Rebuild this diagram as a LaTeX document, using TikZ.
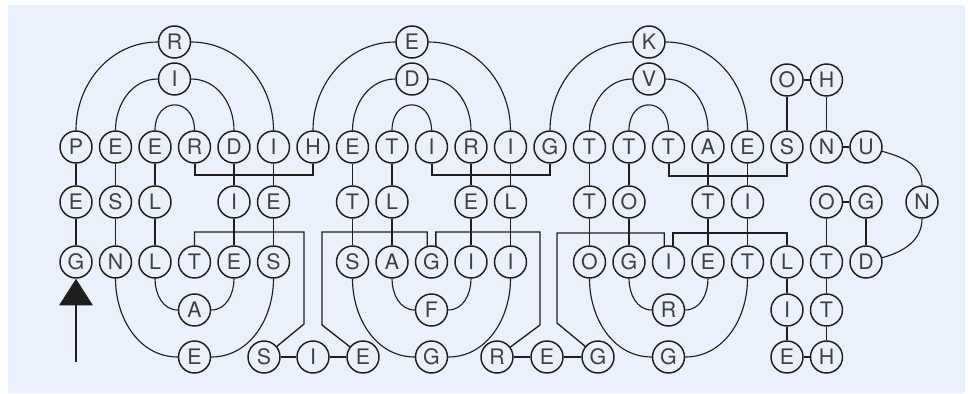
\documentclass[tikz,border=0pt]{standalone}
\usepackage{fontspec}
\setmainfont{TeX Gyre Heros}
\usetikzlibrary{arrows.meta}
\definecolor{paleblue}{RGB}{234,241,251}
\definecolor{ink}{RGB}{30,30,30}

\begin{document}
\begin{tikzpicture}[
    x=0.75pt, y=-0.75pt,
    every node/.style={circle, draw=ink, fill=paleblue, line width=1.1pt, minimum size=24pt, inner sep=0pt, text=ink!85, font=\fontsize{16}{16}\selectfont},
    link/.style={draw=ink, line width=0.85pt},
    tie/.style={draw=ink, line width=1pt},
    bar/.style={draw=ink, line width=1.5pt},
    hairpin/.style={out=90, in=90, looseness=2.2},
    pointer/.style={draw=ink, line width=1.9pt, -{Triangle[width=25pt, length=20pt]}}
]
\useasboundingbox (0,0) rectangle (968,393);
\fill[white] (0,0) rectangle (968,393);
\fill[paleblue] (8,5) rectangle (965,393);

\node (a1) at (174.5,42) {R};
\node (a2) at (412,42) {E};
\node (a3) at (649,42) {K};
\node (b1) at (174.5,79) {I};
\node (b2) at (412,79) {D};
\node (b3) at (649,79) {V};
\node (b4) at (787,80) {O};
\node (b5) at (826.5,80) {H};

\node (c0) at (76,147) {P};
\node (c1) at (115.5,147) {E};
\node (c2) at (155,147) {E};
\node (c3) at (194.5,147) {R};
\node (c4) at (234,147) {D};
\node (c5) at (273.5,147) {I};
\node (c6) at (313,147) {H};
\node (c7) at (352.5,147) {E};
\node (c8) at (392,147) {T};
\node (c9) at (431.5,147) {I};
\node (c10) at (471,147) {R};
\node (c11) at (510.5,147) {I};
\node (c12) at (550,147) {G};
\node (c13) at (589.5,147) {T};
\node (c14) at (629,147) {T};
\node (c15) at (668.5,147) {T};
\node (c16) at (708,147) {A};
\node (c17) at (747.5,147) {E};
\node (c18) at (787,147) {S};
\node (c19) at (826.5,147) {N};
\node (c20) at (866,147) {U};

\node (d0) at (76,202) {E};
\node (d1) at (115.5,202) {S};
\node (d2) at (155,202) {L};
\node (d4) at (234,202) {I};
\node (d5) at (273.5,202) {E};
\node (d7) at (352.5,202) {T};
\node (d8) at (392,202) {L};
\node (d10) at (471,202) {E};
\node (d11) at (510.5,202) {L};
\node (d13) at (589.5,202) {T};
\node (d14) at (629,202) {O};
\node (d16) at (708,202) {T};
\node (d17) at (747.5,202) {I};
\node (d19) at (826.5,202) {O};
\node (d20) at (866,202) {G};
\node (d21) at (922,202) {N};

\node (e0) at (76,262) {G};
\node (e1) at (115.5,262) {N};
\node (e2) at (155,262) {L};
\node (e3) at (194.5,262) {T};
\node (e4) at (234,262) {E};
\node (e5) at (273.5,262) {S};
\node (e7) at (352.5,262) {S};
\node (e8) at (392,262) {A};
\node (e9) at (431.5,262) {G};
\node (e10) at (471,262) {I};
\node (e11) at (510.5,262) {I};
\node (e13) at (589.5,262) {O};
\node (e14) at (629,262) {G};
\node (e15) at (668.5,262) {I};
\node (e16) at (708,262) {E};
\node (e17) at (747.5,262) {T};
\node (e18) at (787,262) {L};
\node (e19) at (826.5,262) {T};
\node (e20) at (866,262) {D};

\node (f3) at (194.5,310) {A};
\node (f9) at (431.5,310) {F};
\node (f15) at (668.5,310) {R};
\node (f18) at (787,310) {I};
\node (f19) at (826.5,310) {T};

\node (g3) at (194.5,357) {E};
\node (g4) at (264,357) {S};
\node (g6) at (313,357) {I};
\node (g7) at (363,357) {E};
\node (g9) at (431.5,357) {G};
\node (g10) at (497,357) {R};
\node (g12) at (547,357) {E};
\node (g13) at (598,357) {G};
\node (g15) at (668.5,357) {G};
\node (g18) at (787,357) {E};
\node (g19) at (826.5,357) {H};

\draw[link] (c0) to[out=90,in=180] (a1) to[out=0,in=90] (c5);
\draw[link] (c1) to[out=90,in=180] (b1) to[out=0,in=90] (c4);
\draw[link] (c2) to[hairpin] (c3);
\draw[link] (c6) to[out=90,in=180] (a2) to[out=0,in=90] (c11);
\draw[link] (c7) to[out=90,in=180] (b2) to[out=0,in=90] (c10);
\draw[link] (c8) to[hairpin] (c9);
\draw[link] (c12) to[out=90,in=180] (a3) to[out=0,in=90] (c17);
\draw[link] (c13) to[out=90,in=180] (b3) to[out=0,in=90] (c16);
\draw[link] (c14) to[hairpin] (c15);

\draw[link] (c0) -- (d0) -- (e0);
\draw[link] (c1) -- (d1) -- (e1);
\draw[link] (c2) -- (d2) -- (e2);
\draw[link] (c4) -- (d4) -- (e4);
\draw[link] (c5) -- (d5) -- (e5);
\draw[link] (c7) -- (d7) -- (e7);
\draw[link] (c8) -- (d8) -- (e8);
\draw[link] (c10) -- (d10) -- (e10);
\draw[link] (c11) -- (d11) -- (e11);
\draw[link] (c13) -- (d13) -- (e13);
\draw[link] (c14) -- (d14) -- (e14);
\draw[link] (c16) -- (d16) -- (e16);
\draw[link] (c17) -- (d17) -- (e17);

\draw[link] (e1) to[out=-90,in=180] (g3) to[out=0,in=-90] (e5);
\draw[link] (e2) to[out=-90,in=180] (f3) to[out=0,in=-90] (e4);
\draw[link] (e7) to[out=-90,in=180] (g9) to[out=0,in=-90] (e11);
\draw[link] (e8) to[out=-90,in=180] (f9) to[out=0,in=-90] (e10);
\draw[link] (e13) to[out=-90,in=180] (g15) to[out=0,in=-90] (e17);
\draw[link] (e14) to[out=-90,in=180] (f15) to[out=0,in=-90] (e16);

\draw[bar] (c3.south) -- ++(0,11) -| (c6.south);
\draw[bar] (c9.south) -- ++(0,11) -| (c12.south);
\draw[bar] (c15.south) -- ++(0,12) -| (c18.south);

\draw[tie] (e3.north) |- (304,232) -- (304,324) -- (g4);
\draw[tie] (g7) -- (322,325) -- (322,232) -| (e9.105);
\draw[tie] (e9.75) |- (540,232) -- (540,325) -- (g10);
\draw[tie] (g13) -- (557,323) -- (557,233) -| (e15.105);
\draw[tie] (e15.75) |- (787,233) -- (e18);

\draw[link] (g4) -- (g6) -- (g7);
\draw[link] (g10) -- (g12) -- (g13);
\draw[link] (c18) -- (b4) -- (b5) -- (c19) -- (c20);
\draw[link] (c20) to[out=-15,in=90] (d21) to[out=-90,in=15] (e20);
\draw[link] (d19) -- (d20) -- (e20);
\draw[link] (d19) -- (e19) -- (f19) -- (g19);
\draw[link] (e18) -- (f18) -- (g18) -- (g19);

\coordinate (tail) at (76,362);
\draw[pointer] (tail) -- (e0);
\end{tikzpicture}
\end{document}
